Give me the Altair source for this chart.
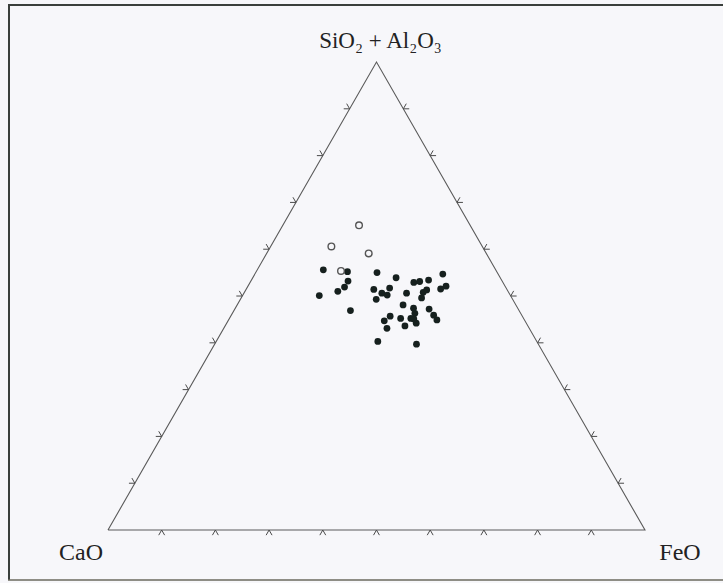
import altair as alt
import pandas as pd

# Slag compositions, wt% (SiO2+Al2O3, CaO, FeO)
slag_sial = [55.6, 55.2, 53.2, 51.9, 51.0, 50.1, 46.9, 55.0, 53.9, 51.4,
             49.3, 50.6, 50.2, 51.7, 50.6, 52.9, 53.1, 53.4, 54.7, 51.5,
             52.1, 50.8, 49.6, 48.1, 47.4, 46.3, 45.2, 45.2, 43.6, 45.7,
             44.7, 43.1, 44.2, 47.2, 45.9, 44.9, 40.3, 39.7, 45.1, 51.3]
slag_cao = [32.1, 27.8, 28.7, 30.0, 31.7, 35.6, 31.4, 22.4, 19.4, 24.8,
            25.4, 23.7, 22.9, 21.7, 19.1, 16.6, 15.4, 13.6, 10.3, 12.3,
            11.0, 15.9, 16.8, 21.0, 19.4, 19.7, 21.0, 22.9, 22.9, 24.6,
            26.2, 26.5, 20.5, 16.6, 16.4, 16.3, 29.6, 22.7, 20.5, 15.0]
slag_feo = [12.3, 17.0, 18.1, 18.1, 17.3, 14.3, 21.7, 22.6, 26.7, 23.8,
            25.3, 25.7, 26.9, 26.6, 30.3, 30.5, 31.5, 33.0, 35.0, 36.2,
            36.9, 33.3, 33.6, 30.9, 33.2, 34.0, 33.8, 31.9, 33.5, 29.7,
            29.1, 30.4, 35.3, 36.2, 37.7, 38.8, 30.1, 37.6, 34.4, 33.7]

# Second group (open symbols)
other_sial = [65.1, 60.6, 59.1, 55.3]
other_cao = [20.7, 28.1, 21.9, 28.9]
other_feo = [14.2, 11.3, 19.0, 15.7]

tick_values = [10, 20, 30, 40, 50, 60, 70, 80, 90]
TICK_LEN = 1.1

x_domain = [-0.2011, 1.1453]
y_domain = [-0.1132, 1.1325]


def ternary(chart):
    return chart.transform_calculate(
        tot="datum.S + datum.C + datum.F"
    ).transform_calculate(
        tx="(datum.F + datum.S / 2) / datum.tot",
        ty="datum.S / datum.tot",
    )


X = alt.X("tx:Q", scale=alt.Scale(domain=x_domain, nice=False, zero=False), axis=None)
Y = alt.Y("ty:Q", scale=alt.Scale(domain=y_domain, nice=False, zero=False), axis=None)

slag = pd.DataFrame({"S": slag_sial, "C": slag_cao, "F": slag_feo})
other = pd.DataFrame({"S": other_sial, "C": other_cao, "F": other_feo})

# Triangle outline (closed)
outline = pd.DataFrame({
    "S": [0, 0, 100, 0],
    "C": [100, 0, 0, 100],
    "F": [0, 100, 0, 0],
    "k": [0, 1, 2, 3],
})

# Tick stubs along each edge, pointing outward along the grid directions
rows = []
seg = 0
d = TICK_LEN
for t in tick_values:
    legs = [
        ((0, 100 - t, t), (-d, 100 - t + d, t)),
        ((0, 100 - t, t), (-d, 100 - t, t + d)),
        ((t, 100 - t, 0), (t, 100 - t + d, -d)),
        ((t, 100 - t, 0), (t + d, 100 - t, -d)),
        ((t, 0, 100 - t), (t, -d, 100 - t + d)),
        ((t, 0, 100 - t), (t + d, -d, 100 - t)),
    ]
    for a, b in legs:
        for k, p in enumerate((a, b)):
            rows.append({"S": p[0], "C": p[1], "F": p[2], "seg": seg, "k": k})
        seg += 1
ticks = pd.DataFrame(rows)

one = pd.DataFrame({"a": [0]})
frame_top = alt.Chart(one).mark_rule(color="#3a3f3c", strokeWidth=2).encode(
    x=alt.value(8), x2=alt.value(723), y=alt.value(5)
)
frame_left = alt.Chart(one).mark_rule(color="#3a3f3c", strokeWidth=2).encode(
    x=alt.value(9), y=alt.value(5), y2=alt.value(580)
)
frame_bottom = alt.Chart(one).mark_rule(color="#6b6a5e", strokeWidth=1.5).encode(
    x=alt.value(8), x2=alt.value(723), y=alt.value(580)
)

edges = ternary(alt.Chart(outline)).mark_line(
    color="#5a5a5a", strokeWidth=1.1
).encode(x=X, y=Y, order="k:O")

tick_layer = ternary(alt.Chart(ticks)).mark_line(
    color="#4a4a4a", strokeWidth=1
).encode(x=X, y=Y, detail="seg:N", order="k:O")

filled_pts = ternary(alt.Chart(slag)).mark_point(
    filled=True, shape="circle", size=46, color="#16201e", opacity=1
).encode(x=X, y=Y)

open_pts = ternary(alt.Chart(other)).mark_point(
    filled=False, shape="circle", size=44, color="#555555", strokeWidth=1.4, opacity=1
).encode(x=X, y=Y)

labels_df = pd.DataFrame({
    "S": [100, 0, 0], "C": [0, 100, 0], "F": [0, 0, 100],
    "name": ["SiO\u2082 + Al\u2082O\u2083", "CaO", "FeO"],
})


def label(i, dx, dy, size):
    return ternary(alt.Chart(labels_df.iloc[[i]])).mark_text(
        font="Liberation Serif", fontSize=size, color="#222222",
        baseline="alphabetic", align="center", dx=dx, dy=dy
    ).encode(x=X, y=Y, text="name:N")


chart = alt.layer(
    frame_top, frame_left, frame_bottom, edges, tick_layer, filled_pts, open_pts,
    label(0, 4, -14, 23), label(1, -27, 30, 24), label(2, 35, 30, 24),
).properties(
    width=723, height=583,
    autosize=alt.AutoSizeParams(type="none"),
    padding=0,
    background="#f7f7fa",
).configure_view(stroke=None)

chart.save("out.html", embed_options={"renderer": "svg", "actions": False})
